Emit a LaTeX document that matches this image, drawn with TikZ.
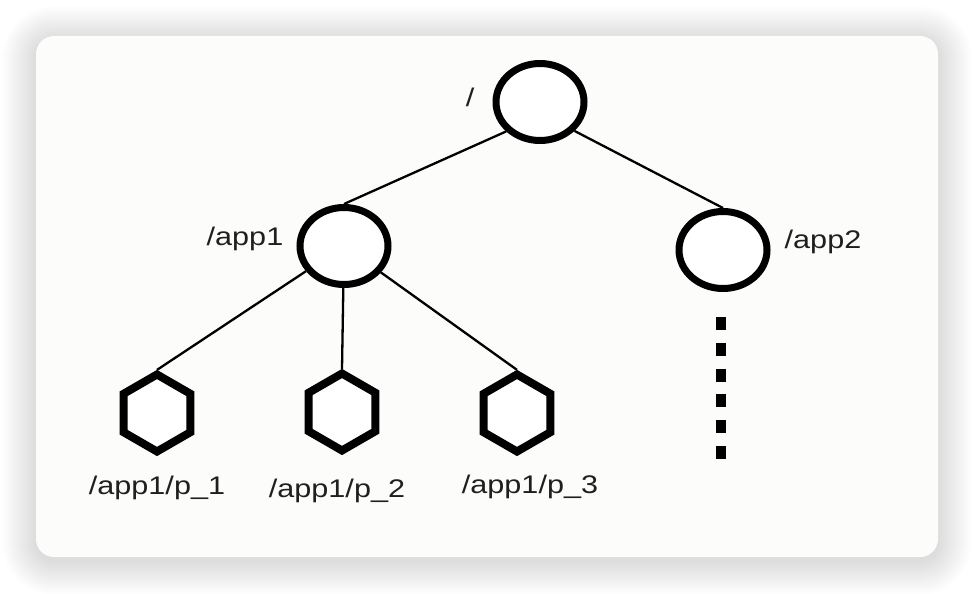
\documentclass[tikz,border=0pt]{standalone}
\usepackage{fontspec}
\newfontfamily\lblfont[FakeStretch=1.2]{Liberation Sans}
\usetikzlibrary{shapes.geometric,calc}

\begin{document}
\begin{tikzpicture}[x=1pt, y=-1pt, every node/.style={inner sep=0pt}]
        \tikzset{
            dir/.style={draw, ellipse, line width=7pt, fill=white, minimum width=88pt, minimum height=77pt},
            leaf/.style={draw, regular polygon, regular polygon sides=6, shape border rotate=90, line width=8pt, fill=white, minimum size=77pt},
            lbl/.style={font=\lblfont\fontsize{25.5}{30}\selectfont, text=black!88, anchor=base},
            edge/.style={line width=2.3pt},
            more/.style={line width=10pt, dash pattern=on 13pt off 12.8pt},
            card/.style={fill={rgb,255:red,252;green,252;blue,250}, rounded corners=18pt}
        }

        % Page and card with a soft shadow
        \useasboundingbox (0,0) rectangle (974,594);
        \fill[white] (0,0) rectangle (974,594);
        \foreach \s in {1,...,34}
            \fill[black, opacity=0.004, rounded corners=18pt+\s pt] (36-\s,40-\s) rectangle (938+\s,561+\s);
        \fill[card] (36,36) rectangle (938,557);

        % Tree nodes
        \node[dir] (root) at (540,102) {};
        \node[dir] (app1) at (344,246) {};
        \node[dir] (app2) at (723,250) {};
        \node[leaf] (p1) at (157,413) {};
        \node[leaf] (p2) at (342,412) {};
        \node[leaf] (p3) at (517,413) {};

        % Labels
        \node[lbl] (rootlbl) at (470,106) {/};
        \node[lbl] (app1lbl) at (245,245) {/app1};
        \node[lbl] (app2lbl) at (823,248) {/app2};
        \node[lbl] (p1lbl) at (157,494) {/app1/p\_1};
        \node[lbl] (p2lbl) at (337,497) {/app1/p\_2};
        \node[lbl] (p3lbl) at (530,493) {/app1/p\_3};

        % Connectors
        \draw[edge] (root.221) -- (app1.north);
        \draw[edge] (root.320) -- (app2.north);
        \draw[edge] (app1) -- (p1.north);
        \draw[edge] (app1) -- (p2.north);
        \draw[edge] (app1) -- (p3.north);

        % More children under /app2
        \coordinate (moretop) at (721,317);
        \coordinate (morebot) at (721,459);
        \draw[more] (moretop) -- (morebot);
    \end{tikzpicture}
\end{document}
